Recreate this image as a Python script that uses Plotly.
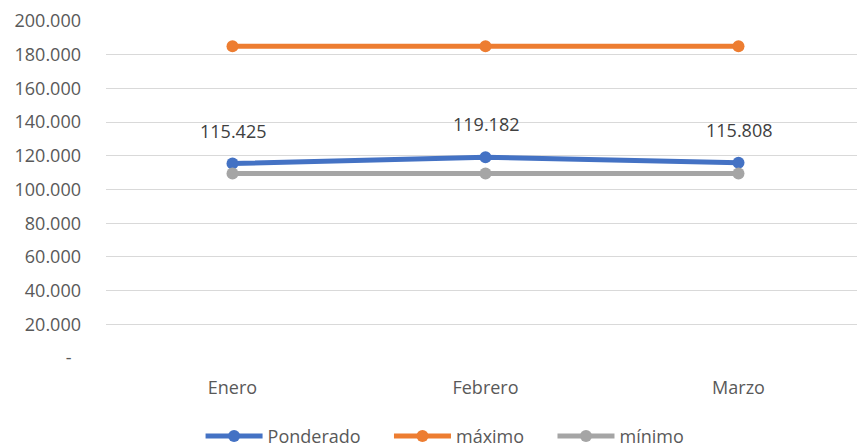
import plotly.graph_objects as go

categories = ["Enero", "Febrero", "Marzo"]
ponderado = [115425, 119182, 115808]
maximo = [185000, 185000, 185000]
minimo = [109500, 109500, 109500]
ponderado_labels = ["115.425", "119.182", "115.808"]
series_names = ["Ponderado", "máximo", "mínimo"]
tick_vals = [0, 20000, 40000, 60000, 80000, 100000, 120000, 140000, 160000, 180000, 200000]
tick_text = ["-\u00a0\u00a0", "20.000", "40.000", "60.000", "80.000", "100.000", "120.000", "140.000", "160.000", "180.000", "200.000"]

FONT = "Open Sans, Liberation Sans, sans-serif"
FS = 18
PAD = "\u00a0" * 5

fig = go.Figure()
fig.add_trace(go.Scatter(x=categories, y=ponderado, name=series_names[0] + PAD, mode="lines+markers",
                         line=dict(color="#4472C4", width=5), marker=dict(size=12, color="#4472C4")))
fig.add_trace(go.Scatter(x=categories, y=maximo, name=series_names[1] + PAD, mode="lines+markers",
                         line=dict(color="#ED7D31", width=5), marker=dict(size=12, color="#ED7D31")))
fig.add_trace(go.Scatter(x=categories, y=minimo, name=series_names[2], mode="lines+markers",
                         line=dict(color="#A5A5A5", width=5), marker=dict(size=12, color="#A5A5A5")))

for c, v, t in zip(categories, ponderado, ponderado_labels):
    fig.add_annotation(x=c, y=v, text=t, showarrow=False, yshift=33,
                       font=dict(size=FS, color="#404040", family=FONT))

fig.update_layout(
    width=857, height=439,
    margin=dict(l=98, r=0, t=13, b=89, autoexpand=False),
    paper_bgcolor="white", plot_bgcolor="white",
    font=dict(family=FONT, color="#595959", size=FS),
    showlegend=True,
    legend=dict(orientation="h", xref="container", x=0.51, xanchor="center", y=-0.232, yanchor="middle",
                font=dict(size=FS, color="#595959"), itemwidth=57, tracegroupgap=0),
)
fig.update_xaxes(type="category", range=[-0.5, 2.5], showgrid=False, showline=False,
                 ticks="", tickfont=dict(size=FS, color="#595959"), automargin=False,
                 ticklabelstandoff=17)
fig.update_yaxes(range=[0, 200000], tickvals=tick_vals, ticktext=tick_text,
                 showgrid=True, gridcolor="#D9D9D9", gridwidth=1.3, zeroline=False,
                 ticks="", tickfont=dict(size=FS, color="#595959"), ticklabelstandoff=24,
                 automargin=False)

fig.write_html("out.html")
